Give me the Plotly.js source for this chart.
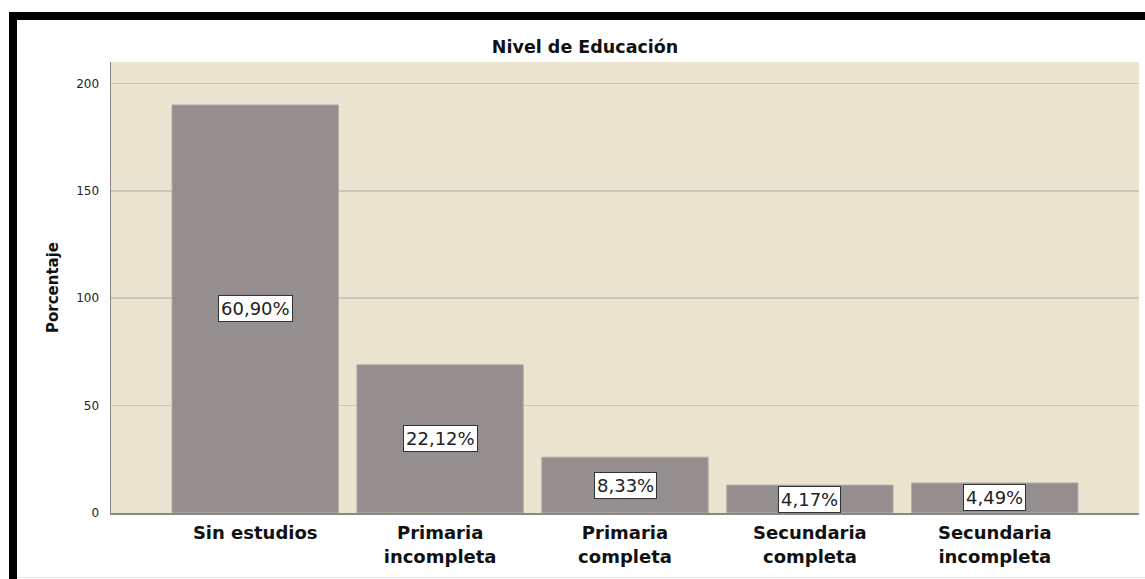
<!DOCTYPE html>
<html>
<head>
<meta charset="utf-8">
<script src="https://cdn.plot.ly/plotly-3.0.1.min.js"></script>
<style>
  html, body { margin: 0; padding: 0; background: #ffffff; }
  #wrap { position: relative; width: 1145px; height: 579px; overflow: hidden; }
  #chart { position: absolute; left: 0; top: 0; width: 1145px; height: 579px; }
  #frameTop { position: absolute; left: 9px; top: 12px; width: 1136px; height: 8px; background: #000; }
  #frameLeft { position: absolute; left: 9px; top: 12px; width: 8px; height: 567px; background: #000; }
  #frameBottom { position: absolute; left: 17px; top: 577px; width: 1128px; height: 1px; background: #e6e6e6; }
</style>
</head>
<body>
<div id="wrap">
  <div id="chart"></div>
  <div id="frameTop"></div>
  <div id="frameLeft"></div>
  <div id="frameBottom"></div>
</div>
<script>
// Data
const categories = ['Sin estudios', 'Primaria incompleta', 'Primaria completa', 'Secundaria completa', 'Secundaria incompleta'];
const tickLabels = ['Sin estudios', 'Primaria<br>incompleta', 'Primaria<br>completa', 'Secundaria<br>completa', 'Secundaria<br>incompleta'];
const counts = [190, 69, 26, 13, 14];
const pctLabels = ['60,90%', '22,12%', '8,33%', '4,17%', '4,49%'];
const yTicks = [0, 50, 100, 150, 200];

const trace = {
  type: 'bar',
  x: categories,
  y: counts,
  width: 0.9,
  marker: { color: '#948f8e', line: { color: '#b3aea8', width: 1 } },
  hoverinfo: 'skip'
};

const annotations = categories.map((c, i) => ({
  x: c,
  y: counts[i] / 2,
  xref: 'x',
  yref: 'y',
  text: pctLabels[i],
  showarrow: false,
  bgcolor: '#ffffff',
  bordercolor: '#333333',
  borderwidth: 1,
  borderpad: 2,
  font: { family: 'DejaVu Sans, sans-serif', size: 18, color: '#222222' }
}));

const layout = {
  width: 1145,
  height: 579,
  margin: { l: 111, r: 6, t: 62, b: 66, pad: 0 },
  paper_bgcolor: '#ffffff',
  plot_bgcolor: '#eae4d0',
  showlegend: false,
  title: {
    text: '<b>Nivel de Educación</b>',
    x: 0.511,
    xref: 'container',
    xanchor: 'center',
    y: 1 - 47 / 579,
    yref: 'container',
    yanchor: 'middle',
    font: { family: 'DejaVu Sans, sans-serif', size: 17.5, color: '#111111' }
  },
  xaxis: {
    type: 'category',
    range: [-0.78, 4.78],
    tickmode: 'array',
    tickvals: categories,
    ticktext: tickLabels,
    ticks: '',
    ticklabelstandoff: 3,
    showgrid: false,
    zeroline: false,
    showline: true,
    linecolor: '#8a8884',
    linewidth: 1.5,
    tickfont: { family: 'DejaVu Sans, sans-serif', size: 18, color: '#111111', weight: 'bold' },
    automargin: false,
    fixedrange: true
  },
  yaxis: {
    range: [0, 210],
    tickmode: 'array',
    tickvals: yTicks,
    ticktext: yTicks.map(String),
    ticks: '',
    ticklabelstandoff: 8,
    showgrid: true,
    gridcolor: '#cbc6ba',
    gridwidth: 1.5,
    zeroline: false,
    showline: true,
    linecolor: '#8a8884',
    linewidth: 1.5,
    tickfont: { family: 'DejaVu Sans, sans-serif', size: 12, color: '#222222' },
    title: {
      text: '<b>Porcentaje</b>',
      standoff: 14,
      font: { family: 'DejaVu Sans, sans-serif', size: 15, color: '#111111' }
    },
    automargin: false,
    fixedrange: true
  },
  annotations: annotations
};

Plotly.newPlot('chart', [trace], layout, { displayModeBar: false, staticPlot: true });
</script>
</body>
</html>
